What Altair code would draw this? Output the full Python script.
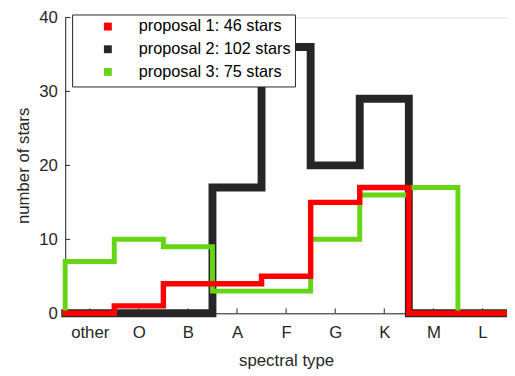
import altair as alt
import pandas as pd

categories = ["other", "O", "B", "A", "F", "G", "K", "M", "L"]
proposal1 = [0, 1, 4, 4, 5, 15, 17, 0, 0]
proposal2 = [0, 0, 0, 17, 36, 20, 29, 0, 0]
proposal3 = [7, 10, 9, 3, 3, 10, 16, 17, 0]
series_names = ["proposal 1: 46 stars", "proposal 2: 102 stars", "proposal 3: 75 stars"]
line_colors = ["#ff0000", "#262626", "#66d614"]
line_widths = [5.5, 8, 5]
y_ticks = [0, 10, 20, 30, 40]

rows = []
for name, vals in zip(series_names, [proposal1, proposal2, proposal3]):
    k = 0
    rows.append({"s": name, "x": -0.5, "y": 0, "o": k}); k += 1
    for i, v in enumerate(vals):
        rows.append({"s": name, "x": i - 0.5, "y": v, "o": k}); k += 1
        rows.append({"s": name, "x": i + 0.5, "y": v, "o": k}); k += 1
    rows.append({"s": name, "x": len(vals) - 0.5, "y": 0, "o": k})
df = pd.DataFrame(rows)

FONT = "Liberation Sans"
FS = 17
xscale = alt.Scale(domain=[-0.5, len(categories) - 0.5], nice=False, zero=False)
yscale = alt.Scale(domain=[0, 40], nice=False)

label_expr = "[" + ",".join("'%s'" % c for c in categories) + "][datum.value]"

def line_layer(idx):
    name = series_names[idx]
    return alt.Chart(df).transform_filter(alt.datum.s == name).mark_line(
        strokeWidth=line_widths[idx], strokeJoin="miter", strokeCap="square", clip=False
    ).encode(
        x=alt.X("x:Q", scale=xscale,
                axis=alt.Axis(values=list(range(len(categories))), labelExpr=label_expr,
                              title="spectral type", ticks=False, domainColor="#262626",
                              labelColor="#262626", titleColor="#262626",
                              labelFontSize=FS, titleFontSize=FS, labelFont=FONT, titleFont=FONT,
                              titleFontWeight="normal",
                              labelPadding=12, titlePadding=12, grid=False, domainWidth=1)),
        y=alt.Y("y:Q", scale=yscale,
                axis=alt.Axis(values=y_ticks, title="number of stars", ticks=False,
                              domainColor="#262626", labelColor="#262626", titleColor="#262626",
                              labelFontSize=FS, titleFontSize=FS, labelFont=FONT, titleFont=FONT,
                              titleFontWeight="normal",
                              labelPadding=8, titlePadding=6, grid=False, domainWidth=1)),
        color=alt.Color("s:N", scale=alt.Scale(domain=series_names, range=line_colors),
                        legend=alt.Legend(title=None, orient="none", legendX=7, legendY=-3,
                                          symbolType="square", symbolSize=16, symbolStrokeWidth=4,
                                          labelFontSize=16.5, labelFont=FONT,
                                          labelColor="#000000", strokeColor="#262626",
                                          fillColor="white", padding=4, symbolOffset=24,
                                          labelOffset=23, rowPadding=2)),
        order="o:Q",
    )

xt = pd.DataFrame({"x": list(range(len(categories)))})
yt = pd.DataFrame({"y": y_ticks})
xticks = alt.Chart(xt).mark_rule(color="#262626", strokeWidth=1).encode(
    x=alt.X("x:Q", scale=xscale), y=alt.value(300), y2=alt.value(295))
yticks = alt.Chart(yt).mark_rule(color="#262626", strokeWidth=1).encode(
    y=alt.Y("y:Q", scale=yscale), x=alt.value(0), x2=alt.value(5))

chart = alt.layer(xticks, yticks, line_layer(1), line_layer(2), line_layer(0)).properties(
    width=448, height=300,
    autosize=alt.AutoSizeParams(type="none"),
    padding={"left": 58, "top": 7, "right": 0, "bottom": 60},
).configure_view(stroke=None).configure(background="white")

chart.save("out.html", embed_options={"renderer": "svg", "actions": False})
